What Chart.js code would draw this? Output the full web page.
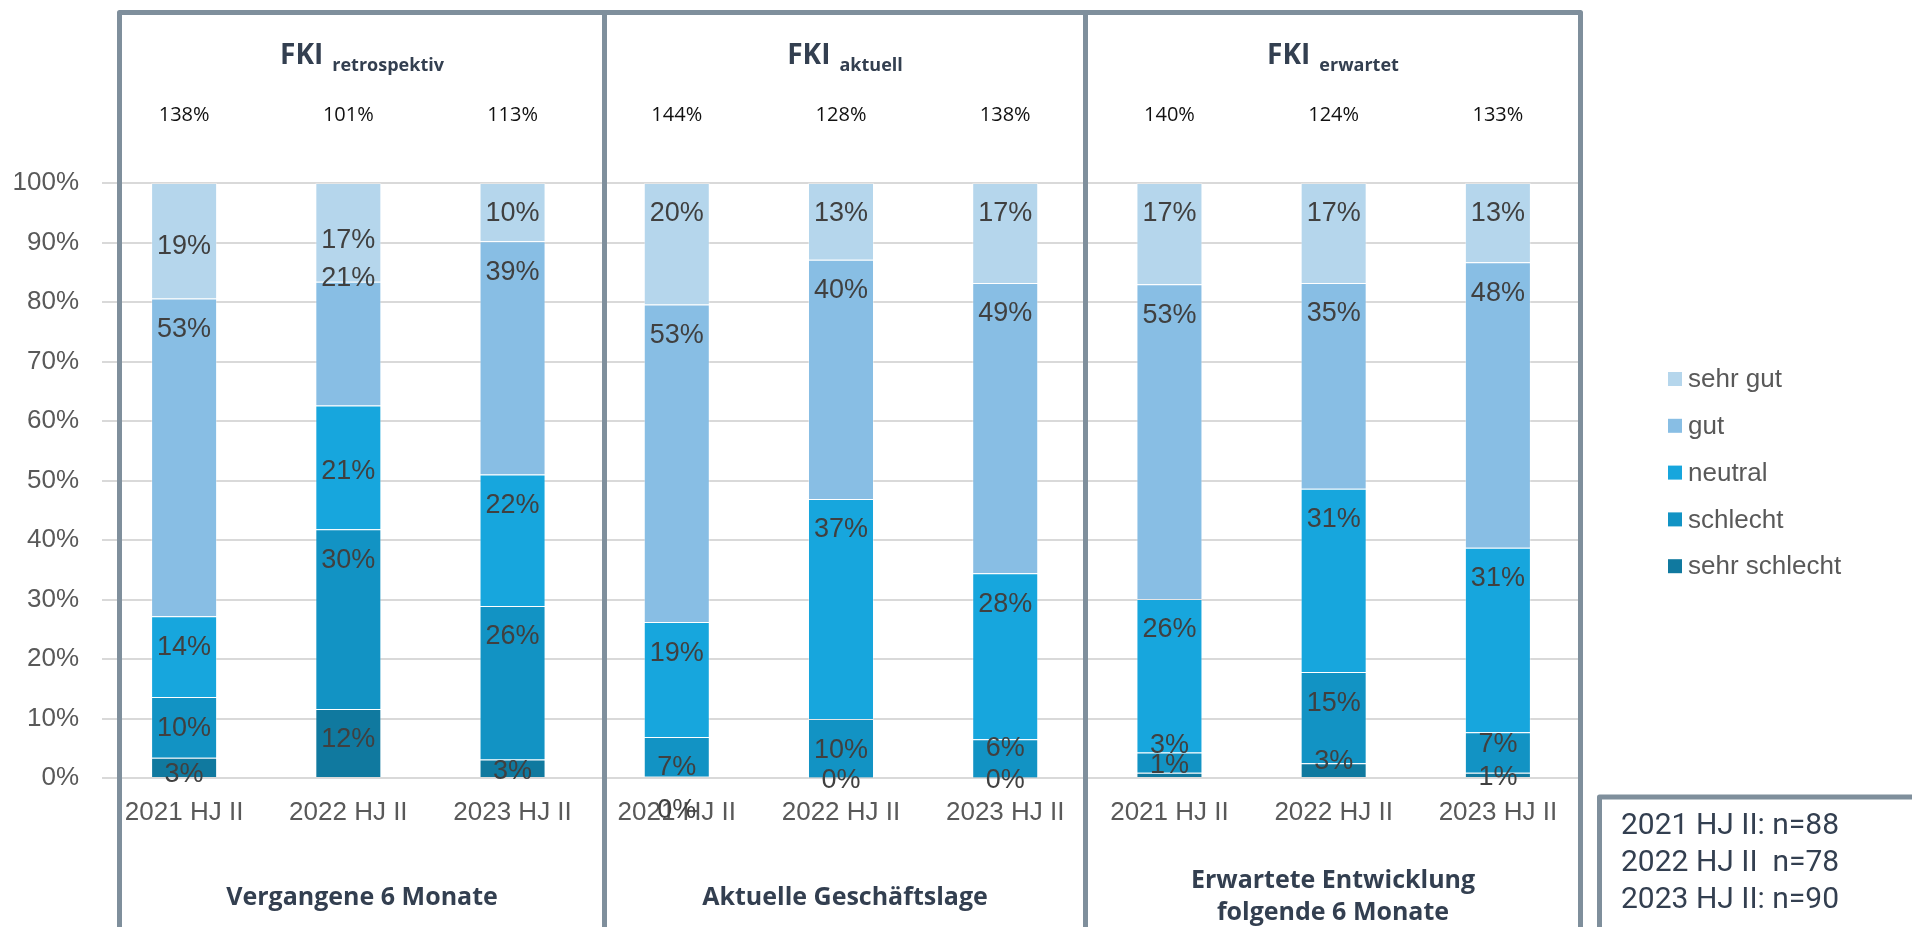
<!DOCTYPE html>
<html lang="de">
<head>
<meta charset="utf-8">
<title>FKI</title>
<script src="https://cdn.jsdelivr.net/npm/chart.js@4.4.1/dist/chart.umd.min.js"></script>
<style>
  html, body { margin: 0; padding: 0; background: #fff; }
  #wrap { position: relative; width: 1912px; height: 927px; }
</style>
</head>
<body>
<div id="wrap"><canvas id="fki" width="1912" height="927"></canvas></div>
<script>
//Categories (three half-years per panel)
const categories = ["2021 HJ II", "2022 HJ II", "2023 HJ II",
                    "2021 HJ II", "2022 HJ II", "2023 HJ II",
                    "2021 HJ II", "2022 HJ II", "2023 HJ II"];
//Shares in percent (labels show them rounded)
const sehrSchlecht = [3.4, 11.6, 3.1, 0.2, 0.1, 0.1, 0.9, 2.5, 0.9];
const schlecht     = [10.2, 30.2, 25.8, 6.7, 9.8, 6.4, 3.4, 15.3, 6.8];
const neutral      = [13.6, 20.8, 22.1, 19.3, 37.0, 27.9, 25.8, 30.8, 31.0];
const gut          = [53.4, 20.8, 39.2, 53.4, 40.2, 48.8, 52.9, 34.6, 48.0];
const sehrGut      = [19.4, 16.6, 9.8, 20.4, 12.9, 16.8, 17.0, 16.8, 13.3];
//FKI index value above each bar
const fkiTotals = [138, 101, 113, 144, 128, 138, 140, 124, 133];
//Panel texts
const panelSubs = ["retrospektiv", "aktuell", "erwartet"];
const panelTitles = [["Vergangene 6 Monate"], ["Aktuelle Geschäftslage"], ["Erwartete Entwicklung", "folgende 6 Monate"]];
const sampleNotes = ["2021 HJ II: n=88", "2022 HJ II  n=78", "2023 HJ II: n=90"];
//y axis ticks
const yTicks = [0, 10, 20, 30, 40, 50, 60, 70, 80, 90, 100];

const frameColor = "#7f8f9c";
const titleColor = "#333f50";
const axisFont = "'Liberation Sans', Arial, sans-serif";

//labels sit just inside the top of each segment (like Excel "inside end"),
//small segments get centred; a few were moved by hand in the original.
//key = dataIndex-datasetIndex, value = px shift
const labelShift = {
  "0-4": 33, "0-0": 4,
  "1-4": 27, "1-3": -34, "1-2": 35,
  "3-0": 31,
  "5-1": -13,
  "6-1": -20, "6-0": -12,
  "7-0": -12,
  "8-1": -19,
};

const decor = {
  id: "decor",
  afterDatasetsDraw(chart) {
    const ctx = chart.ctx;
    ctx.save();
    ctx.font = "27px " + axisFont;
    ctx.fillStyle = "#404040";
    ctx.textAlign = "center";
    ctx.textBaseline = "middle";
    chart.data.datasets.forEach((ds, di) => {
      chart.getDatasetMeta(di).data.forEach((bar, i) => {
        const h = bar.base - bar.y;
        let y = h >= 39 ? bar.y + 28 : (bar.y + bar.base) / 2;
        y += 3 + (labelShift[i + "-" + di] || 0);
        ctx.fillText(Math.round(ds.data[i]) + "%", bar.x, y);
      });
    });
    ctx.restore();
  },
  afterDraw(chart) {
    const ctx = chart.ctx;
    const xs = chart.scales.x;
    const edges = [119.5, 604.5, 1085.5, 1580.5];
    ctx.save();

    //frame and panel dividers
    ctx.strokeStyle = frameColor;
    ctx.lineWidth = 5;
    ctx.lineJoin = "round";
    ctx.beginPath();
    ctx.moveTo(edges[0], 940);
    ctx.lineTo(edges[0], 12.5);
    ctx.lineTo(edges[3], 12.5);
    ctx.lineTo(edges[3], 940);
    ctx.moveTo(edges[1], 12);
    ctx.lineTo(edges[1], 940);
    ctx.moveTo(edges[2], 12);
    ctx.lineTo(edges[2], 940);
    ctx.stroke();

    //panel headings "FKI <sub>"
    ctx.fillStyle = titleColor;
    ctx.textBaseline = "alphabetic";
    ctx.textAlign = "left";
    panelSubs.forEach((sub, p) => {
      const cx = (edges[p] + edges[p + 1]) / 2;
      ctx.font = "bold 28px 'Open Sans', sans-serif";
      const w1 = ctx.measureText("FKI").width;
      ctx.font = "bold 18px 'Open Sans', sans-serif";
      const w2 = ctx.measureText(sub).width;
      const x0 = cx - (w1 + 9 + w2) / 2;
      ctx.font = "bold 28px 'Open Sans', sans-serif";
      ctx.fillText("FKI", x0, 64);
      ctx.font = "bold 18px 'Open Sans', sans-serif";
      ctx.fillText(sub, x0 + w1 + 9, 71);
    });

    //panel footers
    ctx.textAlign = "center";
    ctx.font = "bold 25px 'Open Sans', sans-serif";
    panelTitles.forEach((lines, p) => {
      const cx = (edges[p] + edges[p + 1]) / 2;
      const y0 = lines.length === 1 ? 905 : 888;
      lines.forEach((t, k) => ctx.fillText(t, cx, y0 + k * 32));
    });

    //FKI totals above the bars
    ctx.fillStyle = "#111";
    ctx.font = "20px 'Open Sans', sans-serif";
    ctx.textBaseline = "middle";
    fkiTotals.forEach((v, i) => ctx.fillText(v + "%", xs.getPixelForValue(i), 115));

    //legend, top entry = top segment
    ctx.textAlign = "left";
    ctx.font = "26px " + axisFont;
    const sets = chart.data.datasets.slice().reverse();
    sets.forEach((ds, k) => {
      const y = 379 + k * 46.8;
      ctx.fillStyle = ds.backgroundColor;
      ctx.fillRect(1668, y - 7, 14, 14);
      ctx.fillStyle = "#595959";
      ctx.fillText(ds.label, 1688, y + 1);
    });

    //sample size box
    ctx.strokeStyle = frameColor;
    ctx.lineWidth = 5;
    ctx.strokeRect(1599.5, 797, 400, 200);
    ctx.fillStyle = titleColor;
    ctx.font = "30px Roboto, sans-serif";
    sampleNotes.forEach((t, k) => ctx.fillText(t, 1621, 826 + k * 37));

    ctx.restore();
  }
};

const colors = ["#10799f", "#1293c4", "#17a6dd", "#88bee4", "#b5d6ec"];
const series = [
  { label: "sehr schlecht", data: sehrSchlecht },
  { label: "schlecht", data: schlecht },
  { label: "neutral", data: neutral },
  { label: "gut", data: gut },
  { label: "sehr gut", data: sehrGut },
];

new Chart(document.getElementById("fki"), {
  type: "bar",
  plugins: [decor],
  data: {
    labels: categories,
    datasets: series.map((s, i) => ({
      label: s.label,
      data: s.data,
      backgroundColor: colors[i],
      borderColor: "rgba(255,255,255,0.35)",
      borderWidth: 1,
      categoryPercentage: 1,
      barPercentage: 0.402,
    })),
  },
  options: {
    responsive: false,
    animation: false,
    layout: { padding: { top: 183, right: 332, left: 0, bottom: 0 } },
    plugins: {
      legend: { display: false },
      tooltip: { enabled: false },
    },
    scales: {
      x: {
        stacked: true,
        grid: { display: false },
        border: { display: false },
        ticks: { color: "#595959", font: { size: 26, family: axisFont }, padding: 11, maxRotation: 0, autoSkip: false },
        afterFit: (s) => { s.height = 149; },
      },
      y: {
        stacked: true,
        min: 0,
        max: 100,
        afterBuildTicks: (s) => { s.ticks = yTicks.map((v) => ({ value: v })); },
        grid: { color: "#d9d9d9", lineWidth: 2, drawTicks: false },
        border: { display: false },
        ticks: { color: "#595959", font: { size: 26, family: axisFont }, padding: 23, callback: (v) => v + "%" },
        afterFit: (s) => { s.width = 102; },
      },
    },
  },
});
</script>
</body>
</html>
